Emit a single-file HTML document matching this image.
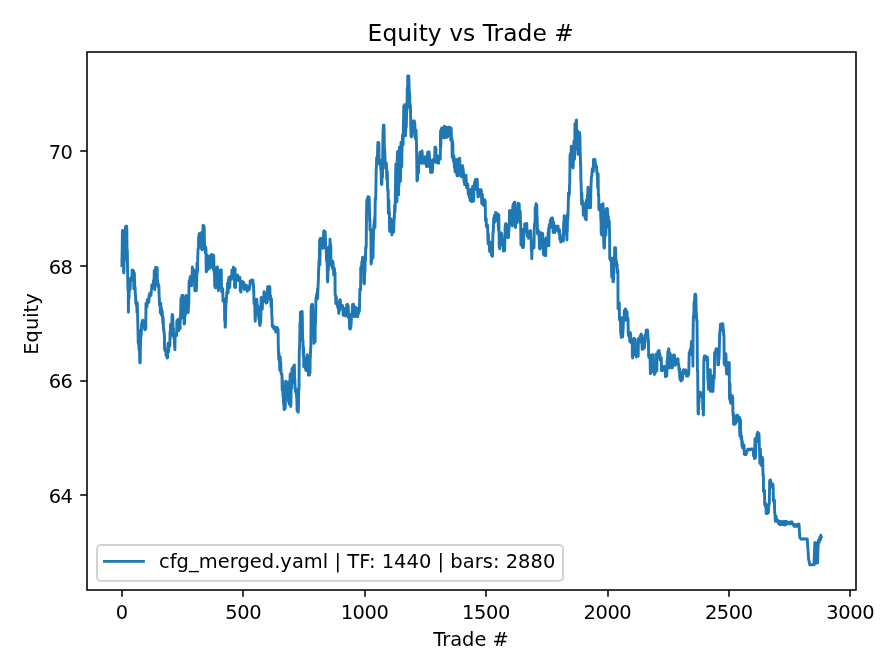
<!DOCTYPE html>
<html lang="en"><head><meta charset="utf-8"><title>Equity vs Trade #</title>
<style>html,body{margin:0;padding:0;background:#fff;}body{width:896px;height:672px;overflow:hidden;}</style>
</head><body>
<svg width="896" height="672" viewBox="0 0 896 672" style="display:block">
<rect x="0" y="0" width="896" height="672" fill="#ffffff"/>
<polyline fill="none" stroke="#1f77b4" stroke-width="2.917" stroke-linejoin="round" stroke-linecap="square" points="121.90,265.50 121.95,262.03 122.19,248.65 122.40,230.80 122.44,231.39 122.68,230.48 122.92,235.78 123.16,235.89 123.41,253.16 123.65,272.90 123.89,271.47 123.90,271.70 124.14,260.53 124.38,260.90 124.62,257.01 124.86,248.24 125.11,230.40 125.35,229.46 125.50,227.30 125.59,231.14 125.84,226.10 126.08,226.10 126.32,226.10 126.56,226.10 126.81,228.60 127.00,250.00 127.05,249.52 127.29,249.52 127.54,266.87 127.60,272.00 127.78,280.73 128.02,290.82 128.26,284.75 128.40,312.20 128.51,300.98 128.75,297.89 128.99,298.38 129.23,289.12 129.48,289.12 129.50,290.00 129.72,279.00 129.96,279.00 130.21,289.56 130.45,279.00 130.69,279.57 130.75,280.00 130.93,280.97 131.18,277.95 131.42,277.25 131.66,277.54 131.91,277.11 132.15,270.22 132.39,273.49 132.63,280.00 132.88,270.10 133.12,274.62 133.36,273.15 133.50,272.30 133.61,271.02 133.85,288.78 134.09,288.78 134.33,273.01 134.58,280.71 134.82,288.78 135.06,287.18 135.10,287.50 135.31,295.12 135.55,294.98 135.79,303.54 136.03,303.54 136.28,301.19 136.40,302.50 136.52,305.60 136.76,305.25 137.01,312.63 137.25,302.90 137.49,309.92 137.73,320.58 137.98,330.82 138.00,330.00 138.22,343.37 138.46,330.84 138.71,330.08 138.95,349.62 139.19,331.09 139.43,345.92 139.68,358.30 139.75,361.70 139.92,362.70 140.16,362.70 140.40,349.04 140.65,339.23 140.89,335.27 141.00,335.00 141.13,335.80 141.38,331.40 141.62,323.92 141.86,325.39 142.00,321.80 142.10,321.79 142.35,321.50 142.59,320.20 142.83,320.71 143.08,320.35 143.32,323.60 143.56,323.60 143.80,322.44 144.00,322.00 144.05,323.18 144.29,323.07 144.53,329.00 144.78,327.16 145.02,329.82 145.26,322.31 145.50,327.60 145.75,328.30 145.75,328.70 145.99,303.40 146.23,303.40 146.48,303.40 146.50,304.00 146.72,302.83 146.96,307.00 147.20,302.41 147.45,299.57 147.69,301.14 147.93,302.86 148.18,300.29 148.42,298.75 148.66,302.02 148.90,302.06 149.15,294.93 149.39,296.03 149.63,296.56 149.88,293.15 150.12,295.46 150.36,294.17 150.50,295.00 150.60,295.57 150.85,295.21 151.09,294.17 151.33,290.06 151.57,289.99 151.82,285.00 152.06,285.00 152.30,287.36 152.55,285.00 152.79,287.51 153.00,287.00 153.03,285.21 153.27,285.72 153.52,280.36 153.76,285.66 154.00,283.84 154.25,270.35 154.49,284.39 154.73,289.72 154.97,281.34 155.22,275.27 155.46,273.09 155.70,267.09 155.95,274.68 156.19,269.63 156.40,269.30 156.43,269.26 156.67,267.82 156.92,267.82 157.16,267.82 157.40,284.33 157.65,280.70 157.89,286.48 158.13,285.74 158.25,285.00 158.37,284.00 158.62,285.29 158.86,285.55 159.10,295.41 159.35,299.24 159.50,305.00 159.59,304.60 159.83,303.00 160.07,303.00 160.32,312.62 160.56,307.19 160.80,303.31 161.05,309.34 161.29,315.00 161.53,308.23 161.77,310.91 162.00,313.00 162.02,311.99 162.26,311.48 162.50,317.09 162.74,319.89 162.99,323.67 163.23,317.47 163.47,329.60 163.72,327.88 163.90,332.50 163.96,332.04 164.20,332.02 164.44,336.54 164.50,347.50 164.69,349.86 164.93,348.17 165.17,351.06 165.42,351.28 165.66,349.59 165.90,349.26 166.14,355.57 166.39,354.22 166.63,355.32 166.75,356.20 166.87,355.40 167.12,357.92 167.36,357.92 167.60,357.58 167.84,348.87 168.09,343.28 168.33,350.12 168.57,351.69 168.82,346.06 168.90,345.00 169.06,346.28 169.30,346.28 169.54,346.28 169.79,346.28 170.03,332.05 170.27,339.04 170.50,325.00 170.52,324.41 170.76,326.31 171.00,326.40 171.24,326.40 171.49,326.40 171.73,326.40 171.97,316.46 172.22,314.40 172.25,315.80 172.46,319.88 172.70,314.80 172.94,321.74 173.19,336.00 173.43,328.16 173.50,335.00 173.67,333.88 173.92,333.88 174.16,338.62 174.40,340.48 174.64,346.15 174.89,348.23 174.90,349.70 175.13,334.09 175.37,335.85 175.61,333.72 175.86,333.72 176.10,335.14 176.34,335.23 176.50,335.00 176.59,335.57 176.83,321.92 177.07,320.42 177.31,320.42 177.56,320.42 177.60,321.30 177.80,321.08 178.04,319.51 178.29,323.25 178.53,325.58 178.77,330.70 179.01,322.95 179.26,329.23 179.50,327.62 179.74,327.81 179.99,326.20 180.10,328.70 180.23,316.94 180.47,320.00 180.71,308.49 180.96,300.13 181.00,298.30 181.20,298.86 181.44,307.46 181.69,306.15 181.93,295.50 182.17,295.50 182.41,295.50 182.66,295.50 182.90,295.50 183.14,318.04 183.39,317.61 183.63,308.61 183.87,309.72 184.11,323.93 184.36,323.79 184.50,323.70 184.60,322.65 184.84,316.75 185.09,311.93 185.33,315.25 185.57,307.45 185.75,297.30 185.81,298.58 186.06,295.54 186.30,301.30 186.54,297.43 186.78,309.08 187.03,297.17 187.27,301.76 187.51,305.37 187.76,300.42 188.00,312.70 188.24,311.58 188.25,310.70 188.48,305.91 188.73,304.37 188.97,288.51 189.00,285.00 189.21,280.60 189.46,281.89 189.70,281.79 189.94,281.94 190.18,276.70 190.43,277.35 190.67,277.62 190.91,284.34 191.16,282.31 191.40,279.23 191.64,285.69 191.88,276.74 192.13,273.70 192.37,267.05 192.61,277.47 192.86,278.37 193.10,277.48 193.34,275.29 193.58,272.25 193.83,270.66 193.90,270.05 194.07,271.04 194.31,271.61 194.56,274.62 194.80,290.70 195.04,290.06 195.28,284.38 195.53,278.28 195.77,277.44 196.01,290.70 196.26,290.70 196.40,288.70 196.50,288.44 196.74,279.82 196.98,263.20 197.23,263.99 197.47,272.58 197.71,258.15 197.95,251.94 198.20,247.74 198.25,247.50 198.44,246.38 198.68,236.87 198.93,238.15 199.17,233.73 199.41,244.20 199.65,235.20 199.90,240.83 200.14,247.31 200.38,237.45 200.63,233.33 200.75,233.80 200.87,235.26 201.11,238.12 201.35,232.80 201.60,244.58 201.84,249.70 202.00,248.70 202.08,249.73 202.33,245.75 202.57,233.24 202.81,239.91 203.05,225.50 203.30,225.50 203.54,240.79 203.78,226.00 204.03,234.24 204.25,227.30 204.27,232.16 204.51,244.46 204.75,249.43 205.00,249.43 205.10,248.75 205.24,252.80 205.48,249.86 205.73,246.75 205.97,250.35 206.21,271.70 206.45,271.70 206.70,258.38 206.94,254.90 207.18,259.55 207.43,267.93 207.60,269.70 207.67,267.53 207.91,266.41 208.15,265.39 208.40,256.82 208.50,256.30 208.64,256.73 208.88,259.12 209.13,259.44 209.37,264.28 209.61,268.30 209.85,268.30 210.10,267.83 210.34,261.43 210.50,266.70 210.58,266.09 210.82,258.55 211.07,254.80 211.31,263.32 211.55,266.55 211.80,262.32 212.04,254.80 212.28,254.80 212.52,254.80 212.77,258.28 213.00,256.80 213.01,259.50 213.25,269.40 213.50,261.88 213.74,255.40 213.98,266.53 214.22,273.11 214.47,271.32 214.71,284.53 214.75,286.20 214.95,276.72 215.20,287.48 215.44,287.80 215.68,287.80 215.92,277.61 216.17,279.44 216.41,272.13 216.65,267.85 216.75,268.30 216.90,267.51 217.14,266.90 217.38,266.90 217.62,278.48 217.87,279.40 218.11,285.78 218.35,290.60 218.50,289.20 218.60,282.87 218.84,274.74 219.08,279.64 219.32,284.01 219.57,275.43 219.81,285.07 220.05,277.41 220.25,271.80 220.30,270.27 220.54,269.92 220.78,278.11 221.02,283.20 221.27,269.92 221.51,288.54 221.75,291.88 221.99,291.88 222.24,289.10 222.48,288.46 222.60,290.00 222.72,288.88 222.97,301.12 223.21,300.29 223.45,301.12 223.69,298.46 223.94,300.13 224.00,300.00 224.18,299.00 224.42,299.00 224.67,320.78 224.91,308.79 225.15,327.20 225.25,326.20 225.39,326.71 225.64,311.77 225.88,305.40 226.12,300.78 226.37,301.58 226.61,294.97 226.85,292.60 227.00,294.00 227.09,292.43 227.34,288.13 227.58,283.27 227.82,286.26 228.07,292.86 228.31,280.01 228.55,283.91 228.79,280.65 229.04,277.40 229.28,286.07 229.52,281.16 229.77,287.60 230.01,280.37 230.25,280.00 230.25,280.02 230.49,279.06 230.74,276.12 230.98,278.93 231.22,276.98 231.47,279.32 231.71,276.74 231.95,269.84 232.19,271.78 232.44,272.94 232.68,277.13 232.92,270.04 233.16,270.70 233.41,267.10 233.65,270.09 233.75,269.90 233.89,268.50 234.14,268.50 234.38,268.50 234.62,287.22 234.86,268.50 235.11,269.03 235.35,278.58 235.50,287.45 235.59,277.06 235.84,280.94 236.08,276.80 236.32,276.80 236.50,277.60 236.56,277.71 236.81,276.39 237.05,278.06 237.29,275.12 237.54,275.12 237.78,275.12 238.02,280.48 238.26,277.93 238.51,278.73 238.75,278.11 238.99,278.42 239.24,278.20 239.48,280.02 239.60,278.00 239.72,278.24 239.96,277.48 240.21,282.13 240.25,290.70 240.45,283.64 240.69,288.57 240.94,292.10 241.18,283.05 241.42,281.90 241.66,281.90 241.91,285.65 242.00,283.30 242.15,281.70 242.39,282.97 242.64,281.70 242.88,287.08 243.12,282.56 243.36,284.10 243.61,282.08 243.85,284.63 244.00,287.50 244.09,288.14 244.33,289.63 244.58,287.61 244.82,285.10 245.06,285.10 245.31,285.10 245.55,285.51 245.79,286.43 246.03,286.79 246.28,285.10 246.52,286.21 246.76,287.09 247.00,287.50 247.01,287.71 247.25,291.30 247.49,289.85 247.73,287.12 247.98,287.89 248.22,286.93 248.46,286.69 248.71,288.56 248.95,288.88 249.00,289.70 249.19,289.26 249.43,287.76 249.68,288.23 249.92,285.61 250.16,281.13 250.41,280.78 250.65,280.92 250.89,281.97 250.90,282.30 251.13,282.34 251.38,282.60 251.62,280.30 251.86,281.60 252.11,280.30 252.35,280.30 252.59,281.42 252.83,280.30 253.08,282.53 253.32,284.17 253.40,284.40 253.56,287.28 253.81,291.87 254.00,303.75 254.05,302.75 254.29,302.75 254.53,302.75 254.78,304.89 255.02,315.91 255.25,321.20 255.26,319.08 255.51,314.52 255.75,313.37 255.99,307.55 256.23,300.69 256.48,301.86 256.50,300.70 256.72,299.18 256.96,302.33 257.20,305.80 257.45,308.45 257.69,310.82 257.93,305.86 258.18,308.05 258.40,311.00 258.42,311.81 258.66,317.23 258.90,319.21 259.15,309.72 259.39,318.91 259.63,324.98 259.88,324.98 260.00,323.70 260.12,325.54 260.36,312.40 260.60,322.46 260.85,316.74 261.09,297.80 261.33,304.95 261.58,297.80 261.82,297.80 262.06,297.80 262.30,309.08 262.55,301.32 262.75,300.00 262.79,300.07 263.03,302.00 263.28,302.00 263.52,301.34 263.76,297.88 264.00,291.80 264.25,291.80 264.49,295.50 264.73,296.31 264.98,295.08 265.22,294.58 265.25,293.80 265.46,293.63 265.70,294.89 265.95,300.86 266.19,303.10 266.43,303.10 266.68,303.10 266.92,301.48 267.00,301.70 267.16,302.14 267.40,293.49 267.65,286.70 267.89,293.88 268.13,292.89 268.37,294.50 268.62,286.70 268.86,286.70 269.00,288.30 269.10,286.78 269.35,286.78 269.59,286.78 269.83,286.78 270.07,297.52 270.32,300.13 270.56,295.67 270.80,298.93 270.90,300.00 271.05,306.65 271.29,299.04 271.53,299.04 271.77,313.71 272.02,318.46 272.10,317.50 272.26,326.42 272.50,326.42 272.75,326.42 272.99,326.42 273.00,325.70 273.23,327.42 273.47,325.86 273.72,326.07 273.96,328.77 274.20,328.90 274.45,328.57 274.69,327.48 274.93,327.45 275.00,327.30 275.17,329.44 275.42,328.98 275.66,332.00 275.90,327.36 276.15,327.53 276.39,327.74 276.63,331.11 276.87,332.00 277.12,327.51 277.36,328.31 277.50,330.00 277.60,330.65 277.85,329.36 278.09,329.36 278.30,345.00 278.33,346.34 278.57,354.98 278.82,359.55 279.06,353.74 279.30,358.75 279.30,359.03 279.54,361.11 279.79,370.14 280.03,359.97 280.27,356.99 280.52,365.15 280.76,362.10 281.00,372.90 281.24,374.00 281.49,373.05 281.50,373.75 281.73,374.81 281.97,374.77 282.22,390.13 282.46,380.47 282.70,380.73 282.94,396.52 283.19,396.52 283.40,395.00 283.43,400.00 283.67,404.33 283.92,404.49 284.16,409.58 284.40,407.72 284.64,397.57 284.89,404.34 285.13,408.61 285.25,408.10 285.37,404.27 285.62,390.50 285.86,381.30 286.10,397.28 286.34,387.33 286.59,389.17 286.83,392.66 287.07,396.30 287.32,386.94 287.56,387.54 287.75,383.30 287.80,382.10 288.04,382.10 288.29,382.10 288.53,401.56 288.77,399.98 289.02,396.08 289.25,404.30 289.26,403.76 289.50,398.46 289.74,402.11 289.99,380.94 290.23,373.88 290.47,376.55 290.72,406.50 290.96,402.74 291.20,385.39 291.44,384.25 291.69,388.26 291.93,371.61 292.00,368.75 292.17,368.41 292.41,370.15 292.66,370.15 292.90,370.15 293.14,366.93 293.39,370.15 293.63,369.20 293.75,366.30 293.87,375.32 294.11,382.75 294.36,364.90 294.60,378.24 294.84,379.07 295.09,387.79 295.33,391.40 295.50,390.00 295.57,390.88 295.81,388.72 296.06,393.74 296.30,390.02 296.54,395.94 296.79,399.07 297.03,407.16 297.10,410.60 297.27,394.45 297.51,407.76 297.76,407.08 298.00,412.12 298.24,412.12 298.49,405.72 298.73,388.48 298.97,388.48 299.00,390.00 299.21,354.90 299.46,347.02 299.60,347.50 299.70,344.03 299.94,323.50 300.19,331.20 300.43,312.09 300.67,323.22 300.91,320.52 301.16,315.43 301.40,313.43 301.50,312.55 301.64,311.53 301.89,311.35 302.13,311.35 302.37,318.68 302.61,341.20 302.86,341.20 303.00,340.00 303.10,349.79 303.34,356.64 303.58,347.29 303.83,366.73 304.07,359.80 304.31,358.36 304.56,357.36 304.80,362.93 305.04,363.60 305.25,368.70 305.28,368.19 305.53,362.16 305.77,360.81 306.01,370.50 306.26,368.46 306.50,362.15 306.74,364.31 306.98,364.61 307.23,354.70 307.47,355.90 307.50,356.30 307.71,360.67 307.96,362.88 308.20,363.68 308.44,375.10 308.68,364.25 308.93,366.63 309.17,363.45 309.41,375.10 309.66,363.02 309.90,369.12 310.00,373.10 310.14,359.47 310.38,355.85 310.63,349.04 310.87,346.31 311.11,308.97 311.30,305.80 311.36,307.60 311.60,308.06 311.84,304.44 312.08,317.62 312.33,307.97 312.57,304.44 312.81,314.60 313.00,325.00 313.06,323.32 313.30,323.32 313.54,327.46 313.78,333.50 314.03,343.38 314.27,339.88 314.51,324.96 314.75,330.07 315.00,336.01 315.10,341.70 315.24,324.67 315.48,324.39 315.73,309.50 315.97,298.08 316.21,299.76 316.25,299.00 316.45,295.59 316.70,296.07 316.94,293.18 317.18,296.30 317.43,289.21 317.67,298.55 317.91,290.33 318.15,284.27 318.40,279.25 318.64,268.00 318.75,270.00 318.88,264.79 319.13,259.46 319.37,260.01 319.61,239.99 319.85,264.72 320.10,253.61 320.34,238.57 320.58,238.57 320.60,240.05 320.83,238.53 321.07,239.50 321.31,238.53 321.55,241.97 321.80,240.63 322.04,246.10 322.28,244.26 322.50,246.70 322.53,246.09 322.77,248.22 323.01,248.22 323.25,242.60 323.50,235.35 323.74,231.03 323.98,238.53 324.23,231.03 324.40,232.55 324.47,231.59 324.71,233.00 324.95,231.59 325.20,231.59 325.44,239.37 325.60,248.75 325.68,247.15 325.92,247.15 326.17,247.15 326.41,257.09 326.65,261.60 326.90,248.41 327.14,262.17 327.38,279.38 327.60,281.00 327.62,281.96 327.87,277.65 328.11,262.42 328.35,270.64 328.60,257.81 328.84,253.88 329.00,255.00 329.08,246.71 329.32,255.80 329.57,252.94 329.81,253.98 330.00,239.30 330.05,240.20 330.30,250.43 330.54,244.05 330.78,246.54 331.02,265.27 331.27,265.27 331.51,260.38 331.75,261.81 331.90,263.75 332.00,264.43 332.24,268.28 332.48,265.56 332.72,261.27 332.97,262.14 333.21,265.57 333.45,267.93 333.70,274.98 333.94,273.49 334.18,274.98 334.42,268.57 334.67,273.18 334.91,274.98 335.00,272.50 335.15,294.83 335.40,295.48 335.60,295.00 335.64,296.06 335.88,303.62 336.12,296.95 336.37,297.97 336.61,302.79 336.85,303.62 337.00,302.50 337.10,302.84 337.34,305.92 337.58,304.64 337.82,307.59 338.07,307.75 338.31,302.62 338.55,309.33 338.75,312.45 338.79,313.45 339.04,303.64 339.28,301.84 339.52,310.59 339.77,300.30 340.00,301.30 340.01,301.27 340.25,299.60 340.49,304.15 340.74,308.00 340.98,308.00 341.22,307.49 341.47,308.00 341.71,306.53 341.95,305.95 342.19,308.00 342.44,305.34 342.50,306.00 342.68,308.38 342.92,308.44 343.17,315.16 343.41,313.21 343.65,308.10 343.89,311.57 344.14,315.65 344.38,314.08 344.62,315.51 344.87,313.73 345.00,314.70 345.11,309.02 345.35,313.05 345.59,315.95 345.84,313.48 346.08,311.12 346.32,314.94 346.57,307.27 346.81,304.66 346.90,305.70 347.05,304.99 347.29,313.50 347.54,304.22 347.78,316.54 348.02,309.64 348.27,305.68 348.51,317.48 348.75,316.00 348.75,316.04 348.99,314.52 349.24,314.52 349.48,325.23 349.72,328.93 349.96,324.62 350.21,327.88 350.45,328.93 350.60,327.45 350.69,325.34 350.94,326.67 351.18,323.03 351.42,314.41 351.66,313.88 351.91,314.88 352.00,315.00 352.15,313.68 352.39,307.66 352.64,304.42 352.88,316.20 353.12,311.20 353.36,310.06 353.50,304.30 353.61,307.36 353.85,309.63 354.09,316.50 354.34,308.77 354.58,313.32 354.82,309.39 355.06,316.50 355.31,316.50 355.55,307.18 355.79,307.51 356.04,313.82 356.25,314.30 356.28,314.65 356.52,315.91 356.76,314.67 357.01,315.36 357.25,316.38 357.49,314.05 357.74,316.82 357.98,308.48 358.22,311.91 358.46,308.48 358.71,313.30 358.95,311.43 359.19,309.87 359.40,311.00 359.44,310.43 359.68,297.72 359.92,289.04 360.16,289.04 360.41,289.04 360.60,290.00 360.65,284.27 360.75,267.50 360.89,268.90 361.13,267.00 361.38,268.90 361.62,266.22 361.86,261.89 362.11,263.38 362.35,262.89 362.50,257.55 362.59,259.50 362.83,260.77 363.08,263.09 363.32,268.74 363.56,261.56 363.81,282.61 364.05,277.76 364.29,283.93 364.40,283.70 364.53,275.49 364.78,273.32 365.02,270.08 365.26,255.13 365.51,260.13 365.60,247.50 365.75,248.54 365.99,248.54 366.23,246.31 366.48,216.30 366.72,204.10 366.90,200.00 366.96,200.14 367.21,200.02 367.45,199.77 367.69,198.68 367.93,196.82 368.18,196.82 368.42,196.82 368.66,197.84 368.75,198.30 368.91,197.30 369.15,197.30 369.39,206.67 369.63,220.79 369.88,218.55 370.00,230.00 370.12,229.00 370.36,229.00 370.61,229.00 370.85,229.85 371.09,263.94 371.25,263.10 371.33,259.58 371.58,261.55 371.82,244.04 372.06,250.79 372.31,245.22 372.55,244.34 372.79,248.99 373.03,257.97 373.28,243.49 373.50,235.00 373.52,235.41 373.76,225.15 374.00,228.84 374.25,220.38 374.49,226.90 374.73,216.46 374.98,227.38 375.22,198.40 375.46,198.93 375.50,200.00 375.70,198.08 375.95,185.47 376.19,169.66 376.43,165.94 376.68,157.63 376.90,158.75 376.92,157.71 377.16,160.03 377.40,160.03 377.65,148.28 377.89,142.52 378.13,142.52 378.38,148.43 378.50,143.80 378.62,143.08 378.86,143.08 379.10,162.00 379.35,163.22 379.40,162.50 379.59,164.26 379.83,160.50 380.08,160.50 380.32,160.50 380.56,160.50 380.80,169.69 381.05,167.93 381.29,179.02 381.53,184.45 381.78,184.45 381.90,182.45 382.02,175.64 382.26,177.74 382.50,176.36 382.75,151.20 382.80,150.00 382.99,133.24 383.23,129.16 383.48,125.24 383.50,125.80 383.72,139.89 383.96,125.16 384.20,134.34 384.30,150.00 384.45,148.96 384.69,148.96 384.93,156.19 385.17,162.63 385.42,162.04 385.60,165.00 385.66,168.45 385.90,163.08 386.15,164.41 386.39,163.08 386.63,172.68 386.87,179.65 387.12,171.06 387.36,173.53 387.60,188.97 387.85,190.70 388.00,190.00 388.09,189.28 388.33,212.71 388.57,213.62 388.82,200.31 389.06,208.98 389.30,213.62 389.40,212.50 389.55,229.49 389.79,231.42 390.03,227.06 390.27,228.86 390.30,230.70 390.52,222.91 390.76,218.74 391.00,219.30 391.00,219.68 391.25,221.42 391.49,221.57 391.73,220.22 391.90,234.95 391.97,230.61 392.22,220.58 392.46,220.58 392.70,227.62 392.80,221.30 392.95,228.78 393.19,232.34 393.43,232.34 393.60,231.70 393.67,231.79 393.92,224.80 394.16,215.97 394.40,218.06 394.50,212.00 394.65,205.44 394.89,212.56 395.13,208.96 395.20,206.00 395.37,191.79 395.62,175.77 395.86,163.85 396.00,164.30 396.10,167.12 396.34,169.42 396.59,197.77 396.83,196.53 396.90,201.70 397.07,168.91 397.32,155.68 397.56,151.66 397.70,152.30 397.80,151.58 398.04,175.52 398.29,189.85 398.53,186.47 398.60,194.70 398.77,174.06 399.02,185.67 399.26,162.49 399.40,147.30 399.50,153.23 399.74,173.68 399.99,181.42 400.23,181.42 400.30,180.70 400.47,181.26 400.72,167.20 400.96,148.62 401.00,142.30 401.20,146.15 401.44,142.28 401.69,160.33 401.80,166.70 401.93,151.65 402.17,143.99 402.42,138.39 402.50,135.30 402.66,145.18 402.90,142.33 403.10,144.70 403.14,141.65 403.39,125.37 403.63,116.36 403.75,106.30 403.87,113.73 404.12,111.98 404.36,107.00 404.60,104.82 404.84,104.82 405.09,126.03 405.33,131.30 405.57,133.33 405.60,135.70 405.82,125.89 406.06,124.25 406.30,127.48 406.54,113.66 406.79,110.75 407.00,110.00 407.03,104.93 407.27,88.05 407.51,107.92 407.76,75.85 408.00,76.27 408.24,81.00 408.49,76.70 408.50,77.05 408.73,76.01 408.97,82.06 409.21,90.20 409.46,96.08 409.70,93.11 409.80,105.00 409.94,103.84 410.19,103.84 410.43,106.15 410.67,121.29 410.91,133.85 411.16,136.86 411.25,135.70 411.40,133.30 411.64,136.46 411.89,136.46 412.13,132.46 412.20,122.80 412.37,125.43 412.61,124.40 412.86,123.39 413.10,125.72 413.34,120.88 413.59,122.91 413.83,121.96 414.07,122.34 414.31,120.88 414.56,123.08 414.60,124.00 414.80,122.68 415.04,132.75 415.29,138.32 415.53,135.51 415.77,133.01 416.01,129.90 416.25,137.00 416.26,137.30 416.50,143.67 416.74,159.86 416.99,180.95 417.23,177.38 417.47,175.99 417.50,179.95 417.71,167.48 417.96,158.80 418.20,158.80 418.44,173.15 418.69,167.99 418.93,158.80 419.00,160.00 419.17,159.60 419.41,161.60 419.66,158.19 419.90,152.89 420.14,152.09 420.38,154.66 420.63,156.06 420.87,155.60 421.00,151.90 421.11,156.72 421.36,162.39 421.60,163.30 421.84,163.30 422.08,151.02 422.33,155.30 422.57,160.17 422.81,159.70 423.00,161.70 423.06,162.19 423.30,161.09 423.54,158.18 423.78,163.30 424.03,163.30 424.27,161.57 424.51,162.24 424.76,161.50 425.00,158.38 425.00,158.30 425.24,156.78 425.48,156.78 425.73,156.78 425.97,156.78 426.21,160.81 426.46,166.47 426.70,164.07 426.90,164.95 426.94,162.81 427.18,166.43 427.43,162.98 427.67,152.32 427.91,157.03 428.16,159.82 428.40,152.67 428.64,156.09 428.75,153.80 428.88,153.85 429.13,152.00 429.37,156.48 429.61,166.77 429.86,158.48 430.10,165.72 430.34,165.58 430.58,172.50 430.83,171.17 431.00,170.70 431.07,172.30 431.31,171.66 431.55,168.35 431.80,171.80 432.04,172.30 432.28,172.30 432.53,168.44 432.77,160.50 433.00,160.00 433.01,159.66 433.25,159.74 433.50,160.95 433.74,162.08 433.98,162.08 434.23,162.08 434.47,162.08 434.71,158.70 434.95,147.22 435.20,147.22 435.44,147.22 435.60,149.30 435.68,151.74 435.93,148.30 436.17,160.30 436.41,162.52 436.65,162.72 436.90,162.72 437.14,162.70 437.38,160.64 437.50,161.20 437.63,161.16 437.87,161.19 438.11,159.19 438.35,159.43 438.60,163.20 438.84,156.00 439.08,158.59 439.33,156.02 439.57,158.08 439.81,159.34 440.00,158.00 440.05,157.64 440.30,159.00 440.54,131.07 440.78,146.95 441.03,131.53 441.25,129.30 441.27,129.68 441.51,131.45 441.75,127.90 442.00,127.90 442.24,130.52 442.48,137.10 442.72,137.10 442.97,136.13 443.00,135.70 443.21,132.62 443.45,137.54 443.70,137.78 443.94,137.14 444.18,133.02 444.42,126.22 444.67,132.13 444.91,137.78 445.15,135.52 445.40,133.02 445.60,128.30 445.64,129.52 445.88,127.98 446.12,134.24 446.37,127.24 446.61,128.91 446.85,132.51 447.10,137.18 447.34,136.91 447.58,136.73 447.82,134.18 448.00,135.70 448.07,134.07 448.31,133.64 448.55,131.25 448.80,127.22 449.04,127.22 449.28,127.22 449.52,127.22 449.77,127.22 450.01,127.22 450.25,127.97 450.50,129.65 450.60,129.30 450.74,140.27 450.98,128.18 451.22,128.18 451.47,140.98 451.71,137.75 451.95,138.78 452.00,140.00 452.20,157.11 452.44,151.65 452.68,141.63 452.92,148.64 453.00,158.75 453.17,158.74 453.41,160.90 453.65,155.93 453.90,155.75 454.14,162.91 454.38,167.49 454.62,162.62 454.87,169.03 455.11,171.86 455.35,159.12 455.59,163.88 455.84,170.35 456.08,168.45 456.32,162.86 456.57,169.49 456.81,174.28 456.90,174.30 457.05,175.78 457.29,159.74 457.54,175.78 457.78,164.25 458.02,173.72 458.27,175.78 458.51,171.27 458.75,160.05 458.75,160.16 458.99,158.60 459.24,162.93 459.48,159.75 459.72,158.25 459.97,169.80 460.21,169.80 460.45,169.80 460.69,167.04 460.94,169.60 461.00,168.00 461.18,172.73 461.42,176.90 461.67,173.74 461.91,166.88 462.15,168.86 462.39,165.80 462.64,165.80 462.88,169.08 463.12,168.80 463.37,172.73 463.61,174.92 463.75,176.00 463.85,178.51 464.09,182.17 464.34,180.28 464.58,184.61 464.82,178.16 465.07,177.63 465.31,184.11 465.55,176.23 465.79,178.48 466.04,175.27 466.28,180.99 466.52,187.60 466.76,183.97 467.00,185.00 467.01,185.08 467.25,184.20 467.49,184.20 467.74,184.20 467.98,187.93 468.00,187.50 468.22,194.18 468.46,194.50 468.71,189.76 468.95,194.40 469.19,191.65 469.44,197.44 469.68,197.47 469.92,197.93 470.16,200.56 470.41,195.17 470.65,194.86 470.89,189.38 471.14,194.57 471.38,194.61 471.62,199.77 471.75,201.70 471.86,197.39 472.11,197.26 472.35,200.00 472.59,186.28 472.84,186.20 473.08,186.20 473.32,193.27 473.56,201.10 473.81,195.00 474.00,188.00 474.05,188.13 474.29,189.60 474.54,182.55 474.78,189.60 475.02,183.60 475.26,179.70 475.51,188.95 475.75,188.19 475.99,181.27 476.00,181.30 476.24,182.87 476.48,182.89 476.72,185.22 476.96,179.22 477.21,179.22 477.45,188.48 477.69,191.43 477.93,196.78 478.18,195.34 478.42,196.78 478.60,194.70 478.66,194.85 478.91,194.97 479.15,189.78 479.39,189.78 479.63,194.61 479.88,190.26 480.12,192.55 480.36,191.59 480.50,191.30 480.61,189.67 480.85,189.83 481.09,189.68 481.33,190.18 481.58,199.61 481.82,203.63 482.06,197.39 482.31,194.22 482.55,200.88 482.79,202.20 483.00,203.70 483.03,204.15 483.28,205.22 483.52,205.22 483.76,204.90 484.01,202.83 484.25,200.03 484.49,199.78 484.73,199.78 484.90,201.30 484.98,200.82 485.22,201.51 485.46,220.48 485.50,220.00 485.71,220.04 485.95,220.22 486.19,218.40 486.43,226.60 486.68,226.60 486.92,226.60 487.16,226.60 487.41,226.60 487.50,225.00 487.65,229.75 487.89,237.70 488.13,243.90 488.38,233.92 488.62,243.90 488.86,243.90 489.10,243.90 489.25,242.50 489.35,245.50 489.59,251.51 489.83,245.60 490.08,249.30 490.32,242.84 490.56,242.13 490.80,243.30 491.05,247.97 491.29,252.11 491.53,255.01 491.75,254.70 491.78,251.89 492.02,256.18 492.26,256.18 492.50,256.18 492.75,239.10 492.99,232.06 493.23,232.49 493.48,226.26 493.60,221.00 493.72,218.21 493.96,220.39 494.20,222.92 494.45,215.12 494.69,221.27 494.93,220.11 495.18,216.68 495.42,221.09 495.66,212.49 495.90,213.49 496.00,213.30 496.15,215.31 496.39,214.65 496.63,213.42 496.88,214.51 497.12,213.47 497.36,217.60 497.60,214.67 497.85,216.74 498.00,216.00 498.09,215.00 498.33,227.27 498.58,230.58 498.82,215.00 499.06,234.77 499.25,247.45 499.30,243.21 499.55,237.90 499.79,248.85 500.03,234.40 500.28,232.40 500.52,245.66 500.76,238.64 501.00,233.80 501.00,234.34 501.25,238.65 501.49,233.33 501.73,235.35 501.97,241.20 502.22,241.20 502.46,240.56 502.50,240.00 502.70,242.24 502.95,242.45 503.19,239.55 503.43,251.10 503.67,251.10 503.92,243.24 504.16,247.12 504.25,249.70 504.40,249.38 504.65,250.68 504.89,239.31 505.13,225.93 505.37,226.19 505.50,225.00 505.62,223.80 505.86,223.80 506.10,225.11 506.35,224.27 506.59,225.51 506.83,226.50 507.00,225.30 507.07,229.17 507.32,230.69 507.56,237.48 507.80,237.48 508.05,234.85 508.29,237.48 508.53,237.48 508.60,236.20 508.77,230.81 509.02,229.56 509.26,225.35 509.50,210.78 509.75,210.78 509.99,211.75 510.23,210.78 510.47,210.78 510.50,212.30 510.72,211.10 510.96,211.30 511.20,217.07 511.45,211.10 511.69,223.46 511.93,220.15 512.00,224.70 512.17,218.11 512.42,225.98 512.66,212.75 512.90,205.41 513.14,218.41 513.39,206.19 513.60,203.80 513.63,203.53 513.87,207.90 514.12,221.42 514.36,202.28 514.60,202.28 514.84,202.28 515.09,206.28 515.33,216.60 515.50,227.45 515.57,222.73 515.82,223.12 516.06,214.19 516.30,218.44 516.54,222.40 516.79,211.50 517.03,214.68 517.27,222.58 517.50,212.00 517.52,212.78 517.76,209.48 518.00,208.36 518.24,203.10 518.49,206.14 518.73,209.59 518.97,203.82 519.00,204.30 519.22,204.09 519.46,220.48 519.70,211.97 519.94,218.17 520.19,210.96 520.43,218.21 520.50,223.75 520.67,222.23 520.92,244.65 521.16,234.83 521.40,229.53 521.64,228.89 521.89,235.57 522.13,246.40 522.37,246.58 522.40,246.20 522.62,247.48 522.86,247.48 523.10,247.48 523.34,247.48 523.59,245.42 523.83,231.72 524.00,233.00 524.07,231.40 524.31,229.84 524.56,227.66 524.80,223.85 525.04,227.24 525.29,224.47 525.50,225.05 525.53,224.46 525.77,224.29 526.01,225.25 526.26,231.30 526.50,223.53 526.74,223.53 526.99,232.16 527.23,235.33 527.40,236.20 527.47,235.78 527.71,234.23 527.96,232.19 528.20,233.28 528.44,238.06 528.69,231.77 528.93,238.20 529.17,237.70 529.41,233.28 529.66,234.13 529.90,232.29 529.90,232.30 530.14,230.82 530.39,230.82 530.63,230.82 530.87,236.25 531.11,240.27 531.36,250.95 531.60,244.96 531.75,258.70 531.84,257.09 532.09,247.88 532.33,246.02 532.57,246.30 532.81,246.02 533.06,246.02 533.30,246.02 533.54,246.39 533.60,247.50 533.79,246.57 534.03,247.82 534.27,228.16 534.51,223.88 534.76,223.88 535.00,224.99 535.00,225.00 535.24,207.58 535.49,223.60 535.73,212.97 535.97,203.65 536.21,210.90 536.46,216.44 536.70,207.75 536.75,205.05 536.94,216.02 537.18,217.83 537.43,231.97 537.67,233.98 537.91,229.52 538.16,233.98 538.40,233.98 538.60,232.50 538.64,234.29 538.88,231.46 539.13,232.26 539.37,248.37 539.61,235.17 539.86,248.80 539.90,248.70 540.10,249.04 540.34,248.63 540.58,233.05 540.83,237.02 541.07,244.46 541.31,236.10 541.56,238.47 541.80,233.05 542.04,235.59 542.28,233.80 542.40,235.05 542.53,238.95 542.77,233.57 543.01,241.71 543.26,241.08 543.50,254.45 543.74,242.14 543.98,244.71 544.23,255.18 544.25,253.70 544.47,252.25 544.71,247.27 544.96,246.12 545.20,239.41 545.44,252.45 545.68,255.70 545.93,245.22 546.17,238.05 546.41,244.12 546.66,243.35 546.75,240.05 546.90,244.26 547.14,245.70 547.38,241.46 547.63,242.24 547.87,240.46 548.00,244.70 548.11,232.18 548.35,241.10 548.60,228.54 548.84,245.74 549.08,235.26 549.30,225.00 549.33,224.81 549.57,225.88 549.81,227.40 550.05,227.40 550.30,220.33 550.54,223.05 550.78,227.40 551.03,222.03 551.27,218.23 551.51,223.42 551.75,221.63 552.00,217.84 552.24,218.79 552.30,219.30 552.48,217.94 552.73,221.34 552.97,224.51 553.21,232.56 553.45,232.56 553.70,222.22 553.94,230.71 554.00,231.20 554.18,232.22 554.43,232.41 554.67,232.48 554.91,229.81 555.15,227.52 555.40,229.96 555.60,228.80 555.64,228.37 555.88,226.28 556.13,229.49 556.37,227.44 556.61,227.87 556.85,226.28 557.10,226.28 557.34,226.28 557.58,226.85 557.83,231.12 558.07,226.28 558.31,231.56 558.55,230.41 558.75,232.50 558.80,231.56 559.04,233.16 559.28,233.38 559.52,229.70 559.77,239.17 560.01,233.40 560.25,235.85 560.50,236.95 560.74,242.10 560.98,237.45 561.22,241.42 561.47,236.71 561.71,241.03 561.95,238.00 562.20,238.83 562.25,239.30 562.44,241.02 562.68,241.02 562.92,237.88 563.17,241.02 563.41,241.02 563.65,222.01 563.90,228.47 564.14,215.83 564.38,218.77 564.40,217.55 564.62,227.86 564.87,221.99 565.11,217.63 565.35,225.29 565.60,228.10 565.84,218.98 566.08,234.50 566.32,216.53 566.57,228.53 566.81,236.28 566.90,239.95 567.05,232.03 567.30,231.60 567.54,214.12 567.78,220.88 568.00,215.00 568.02,214.36 568.27,205.06 568.51,192.88 568.75,192.88 569.00,196.19 569.24,192.88 569.40,194.00 569.48,186.09 569.72,183.74 569.97,163.04 570.00,155.05 570.21,167.10 570.45,167.10 570.50,166.70 570.69,152.90 570.94,162.64 571.18,151.44 571.25,146.30 571.42,163.15 571.67,163.03 571.91,165.30 572.00,164.70 572.15,165.18 572.39,165.18 572.60,149.30 572.64,156.76 572.88,167.77 573.00,167.45 573.12,167.93 573.37,161.93 573.60,150.00 573.61,150.32 573.85,144.03 574.00,141.30 574.09,159.00 574.34,159.10 574.50,158.70 574.58,159.10 574.82,140.57 575.00,123.80 575.07,125.64 575.31,149.26 575.55,147.77 575.70,148.70 575.79,138.34 576.04,123.26 576.28,120.11 576.50,120.05 576.52,126.56 576.77,141.66 577.01,149.26 577.20,148.70 577.25,144.66 577.49,142.09 577.74,137.57 577.80,131.30 577.98,154.26 578.22,146.46 578.47,154.26 578.50,153.70 578.71,153.54 578.95,132.74 579.19,133.02 579.20,133.30 579.44,132.66 579.68,132.66 579.92,137.28 580.00,140.00 580.17,152.41 580.41,158.04 580.50,165.00 580.65,163.40 580.89,180.08 581.14,183.63 581.38,196.37 581.62,204.10 581.87,193.23 582.11,202.93 582.35,200.31 582.50,202.50 582.59,203.02 582.84,204.07 583.08,205.68 583.32,215.31 583.56,213.24 583.81,210.79 584.05,209.61 584.29,214.92 584.54,209.06 584.78,211.39 585.02,215.96 585.25,218.70 585.26,217.31 585.51,211.29 585.75,202.31 585.99,219.70 586.24,219.70 586.48,202.88 586.50,200.00 586.72,201.16 586.96,201.20 587.21,201.20 587.45,196.34 587.69,193.71 587.94,189.47 588.00,187.30 588.18,194.68 588.42,194.17 588.66,207.78 588.91,194.23 589.15,202.25 589.39,190.33 589.64,207.78 589.88,202.90 590.12,202.68 590.36,207.78 590.60,205.70 590.61,206.22 590.85,191.37 591.09,182.71 591.25,182.00 591.34,176.72 591.58,176.54 591.82,175.59 592.06,172.19 592.31,168.60 592.55,168.60 592.79,168.60 593.00,170.00 593.04,169.97 593.28,171.44 593.52,159.42 593.76,161.69 594.01,160.16 594.25,164.92 594.49,159.26 594.73,160.11 594.80,160.70 594.98,159.50 595.22,163.45 595.46,164.50 595.71,164.02 595.95,167.02 596.19,166.28 596.30,167.00 596.43,166.04 596.68,169.18 596.92,173.48 597.16,172.42 597.41,175.96 597.50,175.00 597.65,187.80 597.89,176.47 598.13,174.00 598.38,196.00 598.62,196.00 598.75,195.00 598.86,206.22 598.90,209.70 599.11,207.02 599.35,205.58 599.59,205.13 599.83,205.02 600.08,205.10 600.32,205.02 600.50,206.30 600.56,205.70 600.81,219.53 601.05,220.23 601.25,233.70 601.29,232.21 601.53,232.73 601.78,235.10 602.02,221.36 602.26,217.23 602.51,204.13 602.75,218.43 602.99,205.17 603.00,203.80 603.23,208.78 603.48,223.39 603.72,243.03 603.90,246.20 603.96,247.18 604.21,248.08 604.45,248.08 604.69,237.85 604.93,230.89 605.18,211.67 605.42,219.99 605.66,219.57 605.90,235.26 606.15,215.88 606.25,210.05 606.39,208.65 606.63,208.65 606.88,210.43 607.12,208.65 607.36,208.65 607.60,211.57 607.85,216.76 608.00,217.50 608.09,217.52 608.33,216.38 608.58,227.19 608.82,220.54 609.06,220.98 609.30,221.67 609.40,230.00 609.55,229.72 609.75,258.75 609.79,258.82 610.03,257.55 610.28,257.79 610.52,260.31 610.76,259.20 611.00,260.01 611.25,259.89 611.25,260.00 611.49,267.45 611.73,277.09 611.98,275.08 612.22,258.20 612.46,258.20 612.70,276.50 612.95,281.75 613.19,281.75 613.43,281.75 613.50,279.95 613.68,275.98 613.92,267.71 614.16,262.70 614.40,261.44 614.65,247.80 614.75,248.80 614.89,252.73 615.13,263.00 615.38,248.79 615.62,247.80 615.86,258.78 616.00,262.00 616.10,260.74 616.35,260.48 616.59,263.31 616.83,266.38 617.08,264.24 617.32,272.77 617.56,272.77 617.80,269.92 617.90,271.25 618.05,307.64 618.05,308.70 618.29,303.04 618.53,303.04 618.77,304.49 619.00,303.80 619.02,302.98 619.26,302.68 619.50,319.87 619.75,319.87 619.99,319.87 620.23,319.87 620.40,318.75 620.47,321.96 620.72,333.43 620.96,329.59 621.20,337.38 621.45,326.17 621.69,326.15 621.93,317.71 622.17,326.72 622.42,335.46 622.50,335.70 622.66,336.90 622.90,330.88 623.15,328.72 623.39,322.15 623.63,318.80 623.87,318.80 624.00,320.00 624.12,315.61 624.36,310.50 624.60,310.50 624.85,310.89 625.00,311.30 625.09,310.63 625.33,308.98 625.57,308.98 625.82,317.98 626.06,309.92 626.30,320.38 626.55,320.46 626.79,316.21 627.03,311.72 627.27,319.30 627.52,321.07 627.76,318.16 627.90,318.75 628.00,318.25 628.25,333.52 628.49,335.71 628.73,335.88 628.97,335.47 629.00,335.00 629.22,336.43 629.46,333.26 629.70,341.43 629.94,336.28 630.19,332.40 630.43,333.03 630.67,335.31 630.92,342.60 631.16,339.62 631.40,339.12 631.64,340.94 631.89,342.60 632.13,340.58 632.25,340.00 632.37,356.40 632.50,356.20 632.62,358.00 632.86,354.37 633.10,352.89 633.34,350.86 633.59,339.93 633.83,354.69 634.07,338.25 634.32,348.33 634.56,346.84 634.75,340.05 634.80,341.01 635.04,339.12 635.29,340.36 635.53,346.80 635.77,353.01 636.02,352.76 636.26,356.95 636.50,350.06 636.74,353.20 636.99,347.18 637.23,354.98 637.25,354.95 637.47,354.45 637.72,347.93 637.96,356.35 638.20,356.35 638.44,338.60 638.69,338.60 638.93,338.60 639.00,340.00 639.17,340.18 639.42,341.60 639.66,340.25 639.90,338.68 640.14,336.15 640.39,337.20 640.63,337.69 640.87,337.32 641.00,334.30 641.11,334.10 641.36,342.59 641.60,335.35 641.84,339.64 642.09,348.85 642.33,349.45 642.57,339.34 642.81,338.30 643.06,341.01 643.30,345.19 643.50,347.45 643.54,348.65 643.79,338.25 644.03,344.16 644.27,348.08 644.51,347.04 644.76,342.57 645.00,335.00 645.00,335.06 645.24,336.12 645.49,336.12 645.73,336.12 645.97,336.12 646.21,330.18 646.40,331.30 646.46,333.32 646.70,333.39 646.94,332.62 647.19,330.02 647.43,330.02 647.67,331.29 647.91,336.54 648.00,340.00 648.16,342.60 648.40,339.20 648.64,356.80 648.89,356.80 649.00,356.00 649.13,357.60 649.37,354.88 649.61,354.88 649.86,354.88 650.10,359.45 650.34,371.37 650.40,373.70 650.59,368.30 650.83,355.34 651.07,355.34 651.31,355.34 651.56,355.84 651.60,356.30 651.80,367.76 652.04,371.54 652.28,364.36 652.53,354.78 652.77,354.78 653.01,354.78 653.26,368.64 653.50,372.25 653.50,372.45 653.74,371.87 653.98,370.52 654.23,371.47 654.47,374.45 654.71,371.26 654.96,370.37 655.20,369.00 655.44,372.50 655.68,369.71 655.93,369.95 656.00,371.00 656.17,354.20 656.41,354.20 656.66,356.01 656.90,370.85 657.00,355.00 657.14,354.73 657.38,356.20 657.63,355.68 657.87,351.35 658.11,351.77 658.36,352.14 658.50,352.55 658.60,351.69 658.84,357.49 659.08,350.55 659.33,354.08 659.57,356.42 659.81,353.75 660.06,356.25 660.30,360.26 660.54,359.13 660.78,359.44 661.00,358.75 661.03,361.09 661.27,357.75 661.51,370.70 661.76,370.70 662.00,370.70 662.24,370.70 662.25,369.70 662.48,368.58 662.73,368.54 662.97,366.90 663.21,366.90 663.46,369.96 663.70,367.63 663.94,368.13 664.00,368.30 664.18,366.50 664.43,366.50 664.67,369.04 664.91,367.24 665.15,366.81 665.40,376.75 665.64,370.70 665.88,369.91 666.13,372.43 666.25,374.95 666.37,375.95 666.61,375.95 666.85,375.95 667.10,362.60 667.34,359.00 667.50,360.00 667.58,361.00 667.83,351.65 668.07,361.00 668.31,361.00 668.55,356.69 668.75,348.80 668.80,351.13 669.04,357.74 669.28,368.00 669.53,352.44 669.77,367.71 670.01,359.14 670.25,353.44 670.50,360.77 670.74,362.58 670.98,364.85 671.00,366.20 671.23,358.20 671.47,356.03 671.71,367.44 671.95,367.72 672.20,367.72 672.44,367.72 672.68,359.23 672.90,357.55 672.93,357.60 673.17,358.66 673.41,355.74 673.65,355.07 673.90,357.70 674.14,357.84 674.38,355.07 674.63,360.45 674.87,360.15 675.11,365.38 675.35,363.59 675.60,362.49 675.84,363.48 676.00,363.70 676.08,363.23 676.32,360.33 676.57,359.27 676.81,363.11 677.05,362.78 677.25,360.05 677.30,363.07 677.54,358.65 677.78,358.65 678.02,358.91 678.27,364.92 678.51,363.97 678.75,365.34 679.00,370.17 679.00,370.00 679.24,371.56 679.48,368.11 679.72,376.04 679.97,379.39 680.21,373.57 680.45,378.81 680.70,373.02 680.94,380.95 681.18,377.50 681.42,374.20 681.67,375.71 681.91,376.10 682.15,379.37 682.25,379.95 682.40,379.36 682.64,377.83 682.88,370.84 683.12,370.30 683.37,370.30 683.50,371.30 683.61,369.70 683.85,370.16 684.10,373.32 684.34,373.07 684.58,371.32 684.82,371.22 685.07,371.42 685.31,371.17 685.50,372.00 685.55,371.48 685.80,369.87 686.04,374.05 686.28,373.24 686.52,376.10 686.77,373.35 687.01,373.38 687.25,372.58 687.49,374.56 687.74,376.10 687.98,375.00 688.22,372.81 688.47,373.21 688.50,373.70 688.71,374.34 688.95,364.45 689.19,353.93 689.30,352.50 689.44,354.34 689.68,354.34 689.92,354.34 690.17,349.46 690.41,354.34 690.65,354.34 690.89,351.75 691.14,346.27 691.38,341.46 691.60,343.30 691.62,342.26 691.87,345.04 692.11,355.21 692.35,354.94 692.59,349.33 692.84,357.70 692.90,366.20 693.08,336.36 693.32,317.10 693.40,317.50 693.57,314.78 693.81,317.98 694.00,302.50 694.05,304.02 694.29,304.02 694.54,301.85 694.78,295.92 695.02,294.18 695.27,294.18 695.51,294.18 695.75,297.47 695.90,295.70 695.99,302.25 696.24,312.87 696.48,315.41 696.72,320.88 696.97,320.88 697.00,320.00 697.21,342.46 697.40,371.00 697.45,370.80 697.69,370.20 697.94,405.04 698.18,413.90 698.40,413.10 698.42,414.06 698.67,402.80 698.91,403.38 699.15,397.08 699.39,395.68 699.60,392.30 699.64,392.24 699.88,393.39 700.12,392.35 700.36,395.42 700.61,395.19 700.85,393.47 701.09,393.54 701.34,392.88 701.58,395.89 701.82,394.77 702.00,395.00 702.06,396.98 702.31,396.86 702.55,393.88 702.79,409.44 703.04,400.42 703.28,414.83 703.40,414.95 703.52,408.26 703.76,364.30 704.00,358.75 704.01,358.45 704.25,356.89 704.49,355.90 704.74,355.90 704.98,358.82 705.22,357.80 705.46,359.63 705.71,357.37 705.95,359.08 706.19,356.33 706.44,357.62 706.68,359.22 706.92,358.50 707.00,358.30 707.16,359.51 707.41,357.18 707.65,368.56 707.89,380.09 708.14,381.51 708.38,386.59 708.40,388.70 708.62,387.21 708.86,389.66 709.11,386.85 709.35,380.46 709.59,372.13 709.60,371.30 709.84,369.78 710.08,369.78 710.32,369.78 710.56,391.47 710.81,384.66 711.05,378.72 711.29,384.77 711.50,389.95 711.53,389.66 711.78,385.06 712.02,384.46 712.26,375.98 712.51,376.31 712.75,385.40 712.99,391.47 713.23,384.79 713.40,377.50 713.48,378.46 713.72,378.46 713.96,378.46 714.21,378.46 714.45,369.13 714.60,352.50 714.69,353.02 714.93,353.23 715.18,353.03 715.42,353.19 715.66,352.87 715.91,349.60 716.15,348.78 716.39,348.78 716.63,348.78 716.88,349.77 717.00,350.70 717.12,349.69 717.36,349.58 717.61,355.79 717.85,364.82 718.09,364.78 718.33,364.82 718.40,363.70 718.58,364.66 718.82,351.42 719.06,358.61 719.31,349.04 719.55,337.73 719.60,333.75 719.79,335.27 720.03,330.88 720.28,327.11 720.52,324.18 720.76,324.18 721.01,324.98 721.25,324.18 721.49,324.92 721.50,325.70 721.73,326.27 721.98,327.01 722.22,330.02 722.46,323.70 722.70,323.70 722.95,324.71 723.19,329.80 723.43,329.58 723.68,335.84 723.92,334.98 724.00,335.00 724.15,363.70 724.16,363.70 724.40,362.50 724.65,365.10 724.89,358.18 725.13,365.10 725.38,362.61 725.62,357.86 725.86,354.39 725.90,353.80 726.10,359.71 726.35,370.30 726.59,373.93 726.83,373.93 727.08,373.93 727.32,373.90 727.56,373.93 727.75,372.45 727.80,373.45 728.05,362.80 728.29,373.45 728.53,370.01 728.78,362.80 729.00,363.80 729.02,363.20 729.26,362.80 729.50,397.92 729.75,399.50 729.99,383.67 730.23,400.87 730.25,401.20 730.48,400.28 730.72,403.20 730.96,399.11 731.20,395.55 731.45,396.29 731.69,396.63 731.93,396.47 732.18,395.55 732.42,396.91 732.66,399.08 732.75,397.55 732.90,412.50 732.90,412.18 733.15,415.54 733.39,413.15 733.63,424.33 733.87,424.33 734.12,419.75 734.36,424.33 734.60,424.33 734.85,419.99 735.09,423.31 735.25,422.45 735.33,421.57 735.57,416.30 735.82,423.45 736.06,419.93 736.30,416.30 736.50,417.30 736.55,417.40 736.79,415.30 737.03,415.30 737.27,415.30 737.52,415.30 737.76,416.96 738.00,420.75 738.25,418.09 738.49,419.52 738.73,419.86 738.97,418.43 739.00,418.75 739.22,420.30 739.46,417.15 739.70,432.82 739.95,436.20 740.19,433.44 740.43,419.72 740.67,431.57 740.92,433.52 741.00,437.50 741.16,438.78 741.40,438.99 741.65,436.14 741.89,443.74 742.13,446.68 742.37,441.26 742.62,447.92 742.86,444.64 743.10,444.17 743.35,445.83 743.40,446.00 743.59,445.09 743.83,444.88 744.07,446.02 744.32,454.10 744.56,454.45 744.80,452.09 745.05,454.45 745.29,453.36 745.53,453.32 745.77,453.83 745.90,452.45 746.02,453.12 746.26,454.45 746.50,452.08 746.74,451.21 746.99,451.47 747.23,450.83 747.47,450.43 747.72,449.33 747.96,449.88 748.20,449.75 748.40,449.40 748.44,449.45 748.69,449.58 748.93,449.70 749.17,449.60 749.42,449.70 749.66,449.33 749.90,449.26 750.14,449.70 750.39,449.66 750.63,449.10 750.87,449.38 751.12,449.33 751.36,449.10 751.60,449.43 751.84,449.28 752.09,449.10 752.33,449.10 752.57,449.65 752.82,449.18 753.06,449.37 753.30,449.44 753.40,449.40 753.54,455.91 753.79,448.60 754.03,448.60 754.27,455.66 754.40,457.45 754.52,458.65 754.76,450.02 755.00,438.80 755.24,453.29 755.49,457.90 755.73,447.61 755.90,440.00 755.97,439.58 756.22,440.01 756.46,439.48 756.70,441.72 756.94,434.00 757.19,436.08 757.43,435.49 757.67,432.30 757.91,434.60 758.16,434.70 758.40,434.30 758.40,434.21 758.64,439.40 758.89,433.34 759.13,437.12 759.37,448.67 759.60,450.00 759.61,450.74 759.86,463.21 760.10,448.96 760.34,448.96 760.59,455.85 760.83,464.04 760.90,463.70 761.07,465.18 761.31,465.18 761.56,460.92 761.80,464.15 762.04,458.46 762.29,457.32 762.53,463.68 762.75,458.80 762.77,462.67 763.01,475.52 763.26,475.52 763.40,475.00 763.50,491.73 763.74,491.73 763.99,491.73 764.00,491.25 764.23,490.63 764.47,490.25 764.71,504.75 764.96,504.75 765.20,504.75 765.25,503.75 765.44,506.14 765.69,507.00 765.93,503.78 766.17,513.50 766.41,513.50 766.66,513.50 766.90,512.98 767.14,513.50 767.39,513.14 767.50,511.70 767.63,512.90 767.87,505.75 768.11,510.01 768.36,512.90 768.60,508.18 768.84,504.69 769.00,503.75 769.08,504.23 769.33,504.23 769.57,487.41 769.60,481.90 769.81,480.38 770.06,482.58 770.30,479.98 770.54,479.98 770.78,483.54 771.03,482.82 771.27,486.13 771.51,486.92 771.76,486.92 772.00,485.10 772.00,485.00 772.24,485.71 772.48,483.88 772.73,483.88 772.97,484.88 773.21,488.53 773.40,501.25 773.46,500.29 773.70,500.29 773.94,500.29 774.18,500.29 774.43,500.29 774.60,512.50 774.67,512.28 774.91,513.20 775.16,517.81 775.40,521.28 775.64,516.86 775.88,520.46 776.13,516.29 776.37,519.41 776.61,520.16 776.86,519.83 777.10,519.63 777.34,520.94 777.58,519.99 777.75,522.20 777.83,521.64 778.07,522.46 778.31,522.60 778.56,521.88 778.80,523.93 779.04,521.43 779.28,522.82 779.53,522.02 779.77,521.19 780.01,523.21 780.26,521.84 780.50,524.85 780.74,523.46 780.98,523.85 781.00,523.55 781.23,523.39 781.47,523.87 781.71,522.56 781.95,521.55 782.20,522.78 782.44,524.07 782.68,521.80 782.93,524.57 783.17,522.55 783.41,523.24 783.65,523.96 783.90,524.64 784.14,521.50 784.38,525.05 784.63,525.02 784.87,523.17 785.11,521.50 785.35,521.50 785.60,521.50 785.84,522.63 786.08,522.43 786.33,521.50 786.57,521.79 786.81,524.32 787.05,523.17 787.30,522.66 787.54,523.53 787.75,523.00 787.78,523.20 788.03,523.37 788.27,522.68 788.51,522.20 788.75,522.20 789.00,522.20 789.24,522.66 789.48,523.48 789.73,523.60 789.75,523.50 789.97,523.87 790.21,524.06 790.45,522.63 790.70,522.00 790.94,522.00 791.18,522.00 791.43,522.00 791.67,522.67 791.91,522.00 792.15,522.00 792.40,523.07 792.64,524.14 792.88,523.61 793.12,524.77 793.37,524.59 793.50,524.70 793.61,524.27 793.85,524.40 794.10,526.30 794.34,524.74 794.58,526.30 794.82,526.30 795.07,526.30 795.31,524.87 795.55,526.30 795.80,526.30 796.04,524.97 796.28,524.45 796.52,525.63 796.77,525.17 797.01,524.68 797.25,526.20 797.50,524.60 797.74,524.23 797.90,524.80 797.98,524.86 798.22,525.16 798.47,524.48 798.71,524.18 798.95,524.05 799.00,524.00 799.20,527.78 799.44,532.72 799.68,535.94 799.75,537.25 799.92,537.50 800.17,537.81 800.41,538.01 800.65,538.40 800.90,538.88 801.00,539.00 801.14,538.99 801.38,538.96 801.62,539.04 801.87,539.10 802.11,539.12 802.35,538.98 802.60,538.98 802.84,539.12 803.08,538.96 803.32,538.88 803.57,539.07 803.81,539.12 804.05,538.93 804.29,538.88 804.54,538.88 804.78,538.88 805.02,538.88 805.27,539.03 805.51,538.99 805.75,538.92 805.99,538.99 806.24,538.90 806.48,538.96 806.72,538.95 806.97,539.11 807.21,539.03 807.25,539.00 807.45,542.11 807.69,545.47 807.94,549.32 808.18,552.73 808.42,557.03 808.50,558.50 808.67,559.12 808.91,560.63 809.15,561.68 809.39,562.77 809.64,563.98 809.75,564.75 809.88,564.68 810.12,564.70 810.37,564.70 810.61,564.85 810.85,564.72 811.09,564.87 811.34,564.84 811.58,564.79 811.82,564.63 812.07,564.63 812.31,564.74 812.55,564.87 812.79,564.84 813.04,564.87 813.28,564.75 813.52,564.72 813.77,564.71 814.00,564.75 814.01,564.63 814.25,558.51 814.49,551.21 814.74,544.38 814.80,542.80 814.98,549.34 815.22,557.67 815.40,563.20 815.46,560.12 815.71,552.31 815.90,542.80 815.95,544.97 816.19,553.19 816.44,562.02 816.50,563.20 816.68,557.94 816.92,546.85 817.00,543.30 817.16,549.40 817.41,555.66 817.60,562.70 817.65,560.71 817.89,550.92 818.14,546.99 818.20,545.00 818.38,541.02 818.62,540.41 818.70,539.60 818.86,539.97 819.11,541.27 819.20,542.50 819.35,540.62 819.59,539.20 819.80,537.50 819.84,537.85 820.08,540.14 820.30,540.10 820.32,540.14 820.56,539.16 820.80,535.30 820.81,535.32 821.05,536.33 821.30,536.80"/>
<g stroke="#000" stroke-width="1.556"><line x1="122.00" y1="590.0" x2="122.00" y2="596.81"/><line x1="243.00" y1="590.0" x2="243.00" y2="596.81"/><line x1="365.00" y1="590.0" x2="365.00" y2="596.81"/><line x1="486.00" y1="590.0" x2="486.00" y2="596.81"/><line x1="608.00" y1="590.0" x2="608.00" y2="596.81"/><line x1="729.00" y1="590.0" x2="729.00" y2="596.81"/><line x1="850.00" y1="590.0" x2="850.00" y2="596.81"/><line x1="87.0" y1="495.00" x2="80.19" y2="495.00"/><line x1="87.0" y1="381.00" x2="80.19" y2="381.00"/><line x1="87.0" y1="266.00" x2="80.19" y2="266.00"/><line x1="87.0" y1="151.00" x2="80.19" y2="151.00"/></g>
<rect x="87.0" y="52.0" width="769.0" height="538.0" fill="none" stroke="#000" stroke-width="1.556"/>
<g font-family="'DejaVu Sans','Liberation Sans',sans-serif" font-size="19.44" fill="#000"><text x="121.75" y="618.6" text-anchor="middle" letter-spacing="-0.4">0</text><text x="243.16" y="618.6" text-anchor="middle" letter-spacing="-0.4">500</text><text x="364.58" y="618.6" text-anchor="middle" letter-spacing="-0.4">1000</text><text x="485.99" y="618.6" text-anchor="middle" letter-spacing="-0.4">1500</text><text x="607.40" y="618.6" text-anchor="middle" letter-spacing="-0.4">2000</text><text x="728.82" y="618.6" text-anchor="middle" letter-spacing="-0.4">2500</text><text x="850.23" y="618.6" text-anchor="middle" letter-spacing="-0.4">3000</text><text x="72.6" y="503.30" text-anchor="end" letter-spacing="-0.4">64</text><text x="72.6" y="387.80" text-anchor="end" letter-spacing="-0.4">66</text><text x="72.6" y="274.30" text-anchor="end" letter-spacing="-0.4">68</text><text x="72.6" y="158.80" text-anchor="end" letter-spacing="-0.4">70</text><text x="471.0" y="645.7" text-anchor="middle">Trade #</text><text transform="translate(38,324.0) rotate(-90)" text-anchor="middle">Equity</text></g>
<text x="470.75" y="40.7" text-anchor="middle" textLength="206.3" lengthAdjust="spacing" font-family="'DejaVu Sans','Liberation Sans',sans-serif" font-size="23.33" fill="#000">Equity vs Trade #</text>
<rect x="97.0" y="545.0" width="466.1" height="35.9" rx="3.9" ry="3.9" fill="#ffffff" fill-opacity="0.8" stroke="#cccccc" stroke-opacity="0.9" stroke-width="1.944"/>
<line x1="104.5" y1="561.4" x2="143.4" y2="561.4" stroke="#1f77b4" stroke-width="2.917" stroke-linecap="square"/>
<text x="159.0" y="568.1" textLength="396.3" lengthAdjust="spacing" font-family="'DejaVu Sans','Liberation Sans',sans-serif" font-size="19.44" fill="#000">cfg_merged.yaml | TF: 1440 | bars: 2880</text>
</svg>
</body></html>
